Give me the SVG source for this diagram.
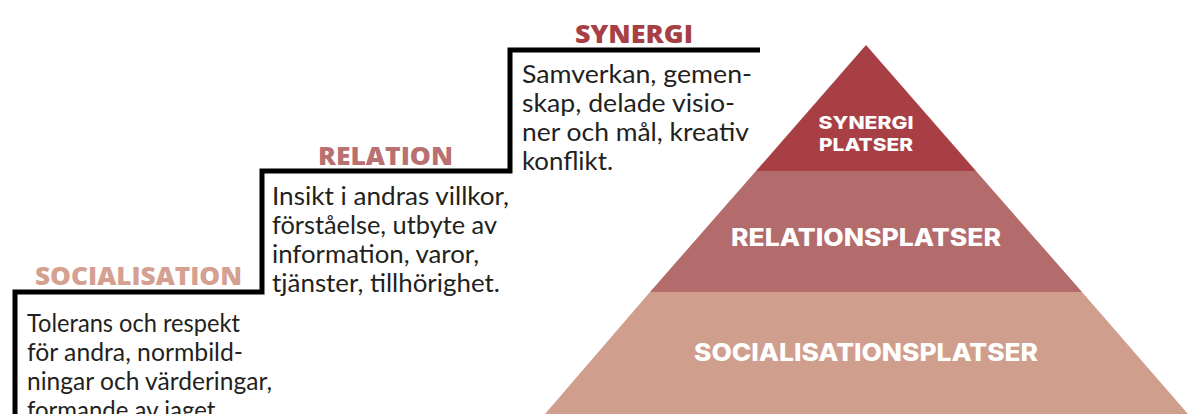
<svg xmlns="http://www.w3.org/2000/svg" width="1196" height="414" viewBox="0 0 1196 414">
<style>
.body{font-family:"Lato","Open Sans","Liberation Sans",sans-serif;font-size:25px;fill:#231f20}
.head{font-family:"Open Sans","Liberation Sans",sans-serif;font-weight:800;font-size:24px;text-anchor:middle}
.plab{font-family:"Inter","Roboto","Liberation Sans",sans-serif;font-weight:800;fill:#ffffff;text-anchor:middle}
.step{fill:none;stroke:#000000;stroke-width:5}
</style>
<rect width="1196" height="414" fill="#ffffff"/>
<g id="connectors">
<polyline class="step" points="15,414 15,292 262,292 262,171 510,171 510,50 760,50"/>
</g>
<g id="socialisation">
<text class="head" x="138.5" y="285" fill="#d4a08f" textLength="207" lengthAdjust="spacingAndGlyphs">SOCIALISATION</text>
<text class="body" x="27" y="332" textLength="213" lengthAdjust="spacingAndGlyphs">Tolerans och respekt</text>
<text class="body" x="27" y="361" textLength="216" lengthAdjust="spacingAndGlyphs">för andra, normbild-</text>
<text class="body" x="27" y="390" textLength="245" lengthAdjust="spacingAndGlyphs">ningar och värderingar,</text>
<text class="body" x="27" y="419" textLength="194" lengthAdjust="spacingAndGlyphs">formande av jaget.</text>
</g>
<g id="relation">
<text class="head" x="385.5" y="165" fill="#b87070" textLength="135" lengthAdjust="spacingAndGlyphs">RELATION</text>
<text class="body" x="272" y="205" textLength="237" lengthAdjust="spacingAndGlyphs">Insikt i andras villkor,</text>
<text class="body" x="272" y="234" textLength="225" lengthAdjust="spacingAndGlyphs">förståelse, utbyte av</text>
<text class="body" x="272" y="263" textLength="207" lengthAdjust="spacingAndGlyphs">information, varor,</text>
<text class="body" x="272" y="292" textLength="228" lengthAdjust="spacingAndGlyphs">tjänster, tillhörighet.</text>
</g>
<g id="synergi">
<text class="head" x="634" y="43" fill="#a83f45" textLength="118" lengthAdjust="spacingAndGlyphs">SYNERGI</text>
<text class="body" x="522" y="83" textLength="230" lengthAdjust="spacingAndGlyphs">Samverkan, gemen-</text>
<text class="body" x="522" y="112" textLength="213" lengthAdjust="spacingAndGlyphs">skap, delade visio-</text>
<text class="body" x="522" y="141" textLength="227" lengthAdjust="spacingAndGlyphs">ner och mål, kreativ</text>
<text class="body" x="522" y="170" textLength="91" lengthAdjust="spacingAndGlyphs">konflikt.</text>
</g>
<g id="pyramid-socialisationsplatser">
<polygon points="650,292 1082,292 1188,414 545,414" fill="#d09e8d"/>
<text class="plab" x="866" y="361" font-size="24" textLength="344" lengthAdjust="spacingAndGlyphs">SOCIALISATIONSPLATSER</text>
</g>
<g id="pyramid-relationsplatser">
<polygon points="756,171 976,171 1082,292 650,292" fill="#b36c6b"/>
<text class="plab" x="866" y="246" font-size="24" textLength="270" lengthAdjust="spacingAndGlyphs">RELATIONSPLATSER</text>
</g>
<g id="pyramid-synergiplatser">
<polygon points="866,45 976,171 756,171" fill="#a83f45"/>
<text class="plab" x="866" y="129" font-size="18" textLength="95" lengthAdjust="spacingAndGlyphs">SYNERGI</text>
<text class="plab" x="866" y="151" font-size="18" textLength="94" lengthAdjust="spacingAndGlyphs">PLATSER</text>
</g>
</svg>
